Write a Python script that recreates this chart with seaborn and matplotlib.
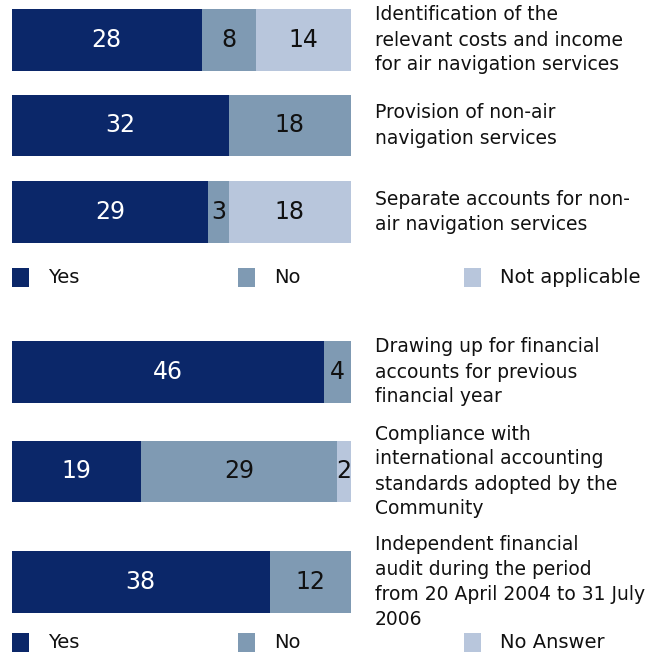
import matplotlib
matplotlib.use("Agg")
import matplotlib.pyplot as plt
from matplotlib.patches import Rectangle
import numpy as np
import pandas as pd
import seaborn as sns

# ---- data -------------------------------------------------------------
top_items = [
    "Identification of the\nrelevant costs and income\nfor air navigation services",
    "Provision of non-air\nnavigation services",
    "Separate accounts for non-\nair navigation services",
]
top_yes = [28, 32, 29]
top_no = [8, 18, 3]
top_na = [14, 0, 18]
top_legend = ["Yes", "No", "Not applicable"]

bottom_items = [
    "Drawing up for financial\naccounts for previous\nfinancial year",
    "Compliance with\ninternational accounting\nstandards adopted by the\nCommunity",
    "Independent financial\naudit during the period\nfrom 20 April 2004 to 31 July\n2006",
]
bottom_yes = [46, 19, 38]
bottom_no = [4, 29, 12]
bottom_noans = [0, 2, 0]
bottom_legend = ["Yes", "No", "No Answer"]

total_respondents = 50
colors = ["#0B2769", "#7F9AB3", "#B8C6DC"]
text_colors = ["white", "#111111", "#111111"]

# ---- layout (pixels) ----------------------------------------------------
W, H = 655, 654
sns.set_theme(style="white")
plt.rcParams["font.family"] = ["DejaVu Sans"]

fig = plt.figure(figsize=(W / 100, H / 100), dpi=100)
fig.patch.set_facecolor("white")

bar_left, bar_right = 11.5, 351
label_x = 375
bar_rows = [(9, 71), (95, 156), (181, 243), (341, 403), (441, 502), (551, 613)]


def px_axes(x0, y0, x1, y1):
    return fig.add_axes([x0 / W, 1 - y1 / H, (x1 - x0) / W, (y1 - y0) / H])


def draw_row(rect, label, segs):
    ax = px_axes(bar_left, rect[0], bar_right, rect[1])
    segs = np.asarray(segs)
    cum = np.cumsum(segs)
    df = pd.DataFrame({"item": [label] * 3, "cum": cum, "part": [0, 1, 2]})
    # stacked bar: draw cumulative totals from the longest down
    for k in (2, 1, 0):
        sns.barplot(data=df[df["part"] == k], x="cum", y="item", color=colors[k],
                    saturation=1, width=1.0, linewidth=0, ax=ax)
    starts = cum - segs
    for k, (s, v) in enumerate(zip(starts, segs)):
        if v > 0:
            ax.text(s + v / 2, 0, f"{v}", ha="center", va="center",
                    fontsize=17, color=text_colors[k])
    ax.set_xlim(0, total_respondents)
    ax.set_ylim(0.5, -0.5)
    ax.axis("off")
    fig.text(label_x / W, 1 - (rect[0] + rect[1]) / 2 / H, label,
             ha="left", va="center", fontsize=13.5, color="#111111",
             linespacing=1.4)


def draw_legend(names, y0, y1):
    for i, name in enumerate(names):
        x0 = 12 + i * 226
        fig.add_artist(Rectangle((x0 / W, 1 - y1 / H), 17 / W, (y1 - y0) / H,
                                 transform=fig.transFigure, facecolor=colors[i],
                                 edgecolor="none"))
        fig.text((x0 + 36) / W, 1 - (y0 + y1) / 2 / H, name, ha="left",
                 va="center", fontsize=14, color="#111111")


for i, label in enumerate(top_items):
    draw_row(bar_rows[i], label, [top_yes[i], top_no[i], top_na[i]])
for i, label in enumerate(bottom_items):
    draw_row(bar_rows[3 + i], label, [bottom_yes[i], bottom_no[i], bottom_noans[i]])

draw_legend(top_legend, 268, 287)
draw_legend(bottom_legend, 633, 652)

fig.savefig("out.png", dpi=100, facecolor="white")
